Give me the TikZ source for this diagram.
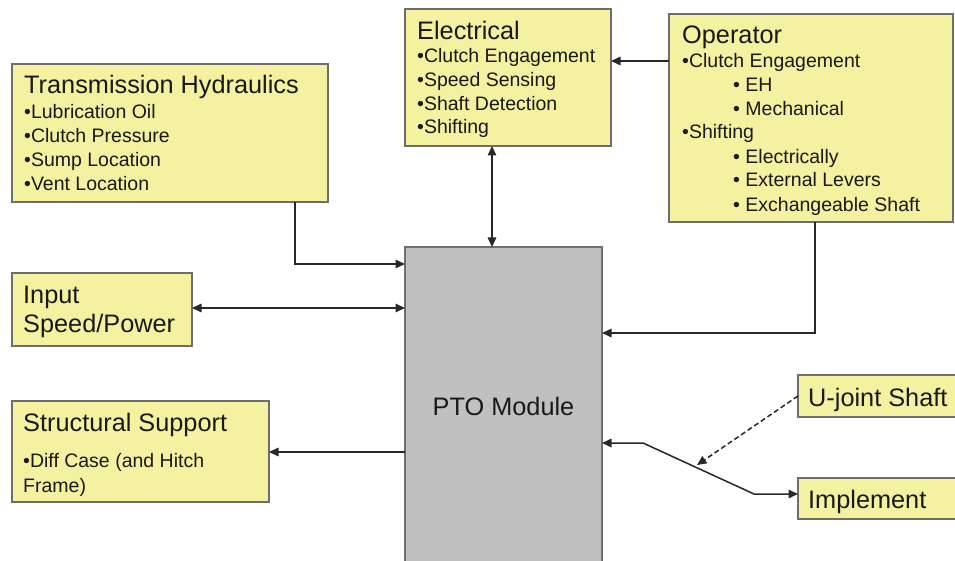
\documentclass[tikz,border=0pt]{standalone}
\usepackage{fontspec}
\setmainfont{Liberation Sans}
\usetikzlibrary{arrows.meta}
\definecolor{boxyellow}{RGB}{244,241,160}
\definecolor{ptogray}{RGB}{192,192,192}
\definecolor{edgegray}{RGB}{110,110,110}
\definecolor{linecol}{RGB}{40,40,40}
\definecolor{txt}{RGB}{25,25,25}
\tikzset{
  ybox/.style={draw=edgegray, line width=1.4pt, fill=boxyellow, anchor=north west, inner sep=0pt, outer sep=0pt},
  gbox/.style={draw=edgegray, line width=1.4pt, fill=ptogray, anchor=north west, inner sep=0pt, outer sep=0pt},
  ttl/.style={anchor=base west, inner sep=0pt, text=txt, font=\fontsize{25.3}{30}\selectfont},
  itm/.style={anchor=base west, inner sep=0pt, text=txt, font=\fontsize{19.5}{24}\selectfont},
  conn/.style={draw=linecol, line width=1.5pt},
  tip/.tip={Triangle[length=9.5pt,width=8.5pt]},
}
\begin{document}
\begin{tikzpicture}[x=1pt,y=-1pt]
\useasboundingbox (0,0) rectangle (955,561);
\clip (0,0) rectangle (955,561);
\fill[white] (0,0) rectangle (955,561);

% boxes
\node[ybox, minimum width=316pt, minimum height=138pt] (th) at (12,64) {};
\node[ybox, minimum width=180pt, minimum height=73pt] (inp) at (12,273) {};
\node[ybox, minimum width=257pt, minimum height=101pt] (ss) at (12,401) {};
\node[ybox, minimum width=206pt, minimum height=137pt] (el) at (405,9) {};
\node[ybox, minimum width=284pt, minimum height=208pt] (op) at (669,14) {};
\node[gbox, minimum width=197pt, minimum height=330pt] (pto) at (405,247) {};
\node[ybox, minimum width=160pt, minimum height=42pt] (uj) at (798,375) {};
\node[ybox, minimum width=160pt, minimum height=41pt] (imp) at (798,478) {};

% Transmission Hydraulics text
\node[ttl] (th0) at (24,94) {Transmission Hydraulics};
\node[itm] (th1) at (24,119) {•Lubrication Oil};
\node[itm] (th2) at (24,143) {•Clutch Pressure};
\node[itm] (th3) at (24,167) {•Sump Location};
\node[itm] (th4) at (24,191) {•Vent Location};

% Input text
\node[ttl] (in0) at (23,303) {Input};
\node[ttl] (in1) at (23,332) {Speed/Power};

% Structural support text
\node[ttl] (ss0) at (23,431) {Structural Support};
\node[itm] (ss1) at (23,467) {•Diff Case (and Hitch};
\node[itm] (ss2) at (23,492) {Frame)};

% Electrical text
\node[ttl] (el0) at (417,40) {Electrical};
\node[itm] (el1) at (417,63) {•Clutch Engagement};
\node[itm] (el2) at (417,87) {•Speed Sensing};
\node[itm] (el3) at (417,111) {•Shaft Detection};
\node[itm] (el4) at (417,134) {•Shifting};

% Operator text
\node[ttl] (op0) at (682,44) {Operator};
\node[itm] (op1) at (682,68) {•Clutch Engagement};
\node[itm] (op2) at (733,92) {• EH};
\node[itm] (op3) at (733,116) {• Mechanical};
\node[itm] (op4) at (682,139) {•Shifting};
\node[itm] (op5) at (733,164) {• Electrically};
\node[itm] (op6) at (733,187) {• External Levers};
\node[itm] (op7) at (733,212) {• Exchangeable Shaft};

% PTO, U-joint, Implement text
\node[ttl, anchor=base] (pto0) at (503.5,415) {PTO Module};
\node[ttl] (uj0) at (808,406) {U-joint Shaft};
\node[ttl] (imp0) at (808,508) {Implement};

% helper coordinates
\coordinate (h1) at (295,264);
\coordinate (i1) at (0,308);
\coordinate (s1) at (0,452);
\coordinate (e1) at (492,0);
\coordinate (o1) at (0,61);
\coordinate (o2) at (815,333);
\coordinate (k1) at (643,443);
\coordinate (k2) at (754,494);
\coordinate (u1) at (697,465);

% connectors
\draw[conn, -tip] (h1 |- th.south) -- (h1) -- (h1 -| pto.west);
\draw[conn, tip-tip] (i1 -| inp.east) -- (i1 -| pto.west);
\draw[conn, -tip] (s1 -| pto.west) -- (s1 -| ss.east);
\draw[conn, tip-tip] (e1 |- el.south) -- (e1 |- pto.north);
\draw[conn, -tip] (o1 -| op.west) -- (o1 -| el.east);
\draw[conn, -tip] (o2 |- op.south) -- (o2) -- (o2 -| pto.east);
\draw[conn, tip-tip] (k1 -| pto.east) -- (k1) -- (k2) -- (k2 -| imp.west);
\draw[conn, dashed, dash pattern=on 5pt off 3pt, -tip] (uj.west) -- (u1);
\end{tikzpicture}
\end{document}
